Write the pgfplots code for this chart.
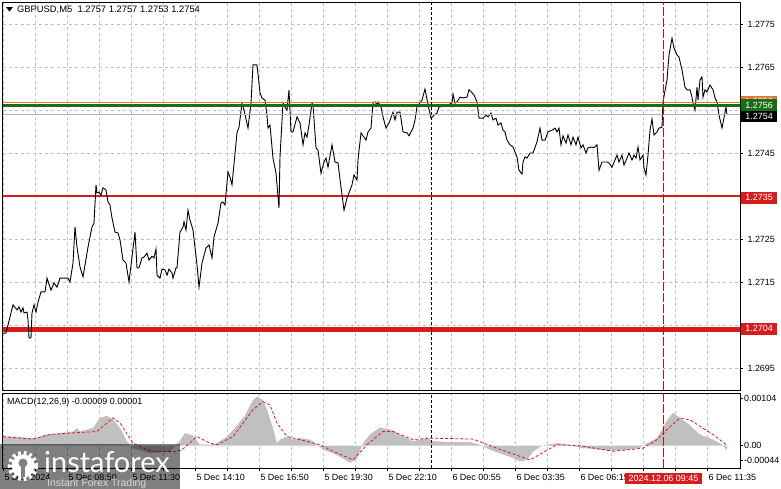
\documentclass[border=0pt]{standalone}
\usepackage{fontspec}
\setmainfont{Liberation Sans}
\newfontfamily\logofont{Lato}
\usepackage{pgfplots}
\pgfplotsset{compat=1.18}
\usepackage{pgfplotstable}

\definecolor{lvlred}{RGB}{214,28,28}
\definecolor{lvlgreen}{RGB}{24,110,24}
\definecolor{lvlorange}{RGB}{222,120,50}
\definecolor{gridgray}{RGB}{190,190,190}
\definecolor{histgray}{RGB}{192,192,192}
\definecolor{sepred}{RGB}{165,30,30}

% close price, x = position on the time axis
\pgfplotstableread{
x p
3 1.27031
6 1.27031
8 1.27050
13 1.27097
17 1.27085
19 1.27092
21 1.27080
23 1.27090
24 1.27078
27 1.27080
28 1.27062
29 1.27020
31 1.27020
32 1.27078
34 1.27097
36 1.27080
38 1.27103
41 1.27127
45 1.27127
47 1.27159
51 1.27131
54 1.27148
57 1.27138
60 1.27159
68 1.27159
70 1.27150
73 1.27194
75 1.27278
77 1.27231
80 1.27185
83 1.27162
88 1.27231
92 1.27278
94 1.27287
96 1.27376
97 1.27357
99 1.27359
101 1.27352
103 1.27369
106 1.27364
108 1.27336
110 1.27329
112 1.27299
115 1.27266
118 1.27264
120 1.27248
123 1.27201
126 1.27194
129 1.27150
132 1.27208
135 1.27266
137 1.27183
139 1.27183
142 1.27206
144 1.27208
147 1.27217
149 1.27201
152 1.27210
154 1.27206
156 1.27227
157 1.27166
160 1.27159
162 1.27180
165 1.27178
167 1.27166
169 1.27180
172 1.27171
173 1.27159
176 1.27183
177 1.27183
180 1.27266
183 1.27278
184 1.27290
186 1.27271
188 1.27317
190 1.27294
193 1.27271
197 1.27190
199 1.27138
202 1.27194
206 1.27229
209 1.27236
212 1.27206
214 1.27255
218 1.27287
221 1.27334
223 1.27336
225 1.27329
228 1.27406
230 1.27394
232 1.27376
237 1.27497
239 1.27510
242 1.27566
244 1.27550
248 1.27508
251 1.27566
253 1.27655
257 1.27655
260 1.27590
262 1.27578
265 1.27573
267 1.27538
268 1.27508
270 1.27515
273 1.27438
276 1.27403
279 1.27322
280 1.27441
283 1.27566
285 1.27557
287 1.27550
289 1.27597
291 1.27499
293 1.27499
297 1.27534
300 1.27520
303 1.27469
305 1.27497
307 1.27487
309 1.27515
312 1.27566
313 1.27562
316 1.27462
318 1.27457
321 1.27403
324 1.27429
326 1.27438
328 1.27417
332 1.27469
335 1.27429
338 1.27427
341 1.27371
344 1.27317
347 1.27345
352 1.27376
354 1.27399
357 1.27387
358 1.27434
361 1.27497
363 1.27490
366 1.27480
368 1.27499
371 1.27508
373 1.27566
375 1.27569
377 1.27562
378 1.27569
381 1.27557
383 1.27534
386 1.27508
389 1.27520
393 1.27545
395 1.27527
397 1.27545
400 1.27545
403 1.27499
407 1.27497
409 1.27490
413 1.27508
415 1.27527
417 1.27557
422 1.27573
425 1.27599
428 1.27562
431 1.27531
434 1.27538
437 1.27543
439 1.27557
445 1.27559
452 1.27566
453 1.27587
455 1.27566
457 1.27569
460 1.27580
463 1.27578
467 1.27580
469 1.27597
472 1.27590
474 1.27585
477 1.27569
479 1.27531
483 1.27531
486 1.27538
488 1.27534
491 1.27543
493 1.27527
496 1.27531
498 1.27515
501 1.27520
503 1.27503
505 1.27499
507 1.27480
510 1.27469
513 1.27464
517 1.27441
519 1.27410
522 1.27401
523 1.27429
525 1.27441
527 1.27438
530 1.27450
533 1.27450
537 1.27476
540 1.27508
542 1.27480
545 1.27480
548 1.27499
552 1.27503
555 1.27508
557 1.27499
559 1.27508
561 1.27469
563 1.27490
566 1.27473
568 1.27492
571 1.27469
573 1.27487
576 1.27469
578 1.27487
581 1.27462
583 1.27469
586 1.27450
588 1.27462
592 1.27464
594 1.27462
597 1.27469
599 1.27410
602 1.27429
607 1.27429
609 1.27427
612 1.27417
615 1.27434
617 1.27445
619 1.27429
622 1.27445
624 1.27422
627 1.27438
629 1.27450
632 1.27434
634 1.27445
636 1.27438
638 1.27464
640 1.27434
643 1.27445
644 1.27415
646 1.27399
648 1.27445
650 1.27503
652 1.27529
654 1.27492
657 1.27499
659 1.27508
662 1.27510
663 1.27569
667 1.27620
669 1.27678
672 1.27717
674 1.27694
677 1.27678
679 1.27673
682 1.27643
685 1.27603
687 1.27597
690 1.27597
692 1.27580
693 1.27566
695 1.27550
697 1.27603
698 1.27573
700 1.27620
702 1.27627
703 1.27580
705 1.27597
707 1.27592
710 1.27608
713 1.27597
715 1.27578
717 1.27569
719 1.27538
722 1.27508
723 1.27520
726 1.27557
727 1.27538
}\pricedata

% MACD main (histogram)
\pgfplotstableread{
x m
3 0.00018
15 0.00018
30 0.00015
37 0.00015
45 0.00022
60 0.00025
73 0.00028
77 0.00035
80 0.00028
93 0.00035
100 0.00055
107 0.00059
113 0.00052
120 0.00035
127 0.00009
133 -0.00005
150 -0.00015
170 -0.00012
180 0.00010
185 0.00025
193 0.00020
200 0.00002
210 0.00002
217 0.00005
227 0.00018
237 0.00040
245 0.00060
253 0.00090
257 0.00097
263 0.00090
267 0.00071
273 0.00035
277 0.00005
280 0.00012
287 0.00018
293 0.00012
300 0.00015
310 0.00012
317 0.00002
323 -0.00008
333 -0.00015
343 -0.00025
350 -0.00034
357 -0.00025
363 0.00005
370 0.00022
377 0.00032
380 0.00036
390 0.00032
393 0.00030
400 0.00022
413 0.00009
420 0.00012
427 0.00015
433 0.00009
450 0.00007
470 0.00007
480 0.00002
490 -0.00008
500 -0.00015
510 -0.00022
520 -0.00031
527 -0.00028
533 -0.00012
540 -0.00002
547 0.00002
557 0.00005
570 0.00002
580 -0.00004
600 -0.00008
613 -0.00010
627 -0.00008
640 -0.00004
647 0.00005
657 0.00015
667 0.00050
673 0.00065
680 0.00055
687 0.00045
700 0.00022
713 0.00012
722 0.00002
727 -0.00009
}\macddata

% MACD signal
\pgfplotstableread{
x s
3 0.00018
20 0.00015
33 0.00013
50 0.00022
70 0.00025
97 0.00028
113 0.00055
120 0.00045
133 0.00005
150 -0.00010
175 -0.00012
182 -0.00008
197 0.00018
210 0.00005
217 0.00002
233 0.00018
253 0.00071
263 0.00087
270 0.00080
277 0.00045
287 0.00018
300 0.00012
320 0.00002
333 -0.00011
353 -0.00028
367 0.00002
383 0.00028
393 0.00028
413 0.00012
430 0.00015
473 0.00013
497 -0.00005
530 -0.00028
557 0.00002
580 0.00000
613 -0.00011
643 -0.00005
657 0.00012
667 0.00032
680 0.00055
690 0.00051
713 0.00022
727 0.00001
}\signaldata

\begin{document}
\begin{tikzpicture}[font=\fontsize{9}{10}\selectfont]
\useasboundingbox (0,0) rectangle (781bp,-489bp);

\begin{axis}[
    at={(2.5bp,-2bp)}, anchor=north west,
    scale only axis, width=737.5bp, height=388bp,
    xmin=2.5, xmax=740, ymin=1.268988, ymax=1.278012,
    axis line style={black, line width=0.8bp},
    xtick={3,35,...,707}, xticklabels={}, xtick style={draw=none},
    ytick={1.2695,1.2705,1.2715,1.2725,1.2735,1.2745,1.2755,1.2765,1.2775},
    yticklabels={1.2695,,1.2715,1.2725,,1.2745,,1.2765,1.2775},
    ytick pos=right, yticklabel pos=right,
    tick align=outside, major tick length=3bp,
    ytick style={black, line width=0.6bp},
    grid=major, grid style={gridgray, dash pattern=on 3bp off 3bp, line width=0.6bp},
    tick label style={font=\fontsize{9}{10}\selectfont},
    yticklabel style={xshift=1bp},
]
\addplot[lvlred, line width=2.8bp] coordinates {(2.5,1.2735) (740,1.2735)};
\addplot[lvlred, line width=4.5bp] coordinates {(2.5,1.2704) (740,1.2704)};
\addplot[black, line width=0.9bp] table[x=x, y=p] {\pricedata};
\addplot[lvlorange, line width=0.9bp] coordinates {(2.5,1.27567) (740,1.27567)};
\addplot[lvlgreen, line width=3bp] coordinates {(2.5,1.2756) (740,1.2756)};
\addplot[black!30, line width=0.8bp] coordinates {(2.5,1.2754) (740,1.2754)};
\addplot[black, line width=0.8bp, dash pattern=on 3bp off 2bp] coordinates {(431.5,1.268988) (431.5,1.278012)};
\addplot[sepred, line width=0.9bp, dash pattern=on 9bp off 2bp] coordinates {(663,1.268988) (663,1.278012)};
\end{axis}

\begin{axis}[
    at={(2.5bp,-393bp)}, anchor=north west,
    scale only axis, width=737.5bp, height=75bp,
    xmin=2.5, xmax=740, ymin=-0.00044, ymax=0.00104,
    axis line style={black, line width=0.8bp},
    xtick={3,35,...,707},
    xticklabels={5 Dec 2024,,5 Dec 08:50,,5 Dec 11:30,,5 Dec 14:10,,5 Dec 16:50,,5 Dec 19:30,,5 Dec 22:10,,6 Dec 00:55,,6 Dec 03:35,,6 Dec 06:15,,6 Dec 08:55,,6 Dec 11:35},
    xtick pos=bottom, xticklabel style={anchor=north west, xshift=-2bp},
    ytick={-0.000296,0,0.000927}, yticklabels={-0.00044,0.00,0.00104},
    scaled y ticks=false,
    ytick pos=right, yticklabel pos=right,
    tick align=outside, major tick length=3bp,
    tick style={black, line width=0.6bp},
    xmajorgrids, grid style={gridgray, dash pattern=on 3bp off 3bp, line width=0.6bp},
    tick label style={font=\fontsize{9}{10}\selectfont},
    yticklabel style={xshift=-2.5bp},
]
\addplot[fill=histgray, draw=none] table[x=x, y=m] {\macddata} \closedcycle;
\addplot[lvlred, line width=0.8bp, dash pattern=on 3bp off 2bp] table[x=x, y=s] {\signaldata};
\addplot[black, line width=0.8bp, dash pattern=on 3bp off 2bp] coordinates {(431.5,-0.00044) (431.5,0.00104)};
\addplot[sepred, line width=0.9bp, dash pattern=on 9bp off 2bp] coordinates {(663,-0.00044) (663,0.00104)};
\end{axis}

% header
\fill (6bp,-7bp) -- (13bp,-7bp) -- (9.5bp,-11.5bp) -- cycle;
\node[anchor=west, inner sep=0pt, font=\fontsize{9.4}{10}\selectfont] at (17bp,-9.5bp) {GBPUSD,M5\ \ 1.2757 1.2757 1.2753 1.2754};
\node[anchor=west, inner sep=0pt, font=\fontsize{9}{10}\selectfont] at (7bp,-402bp) {MACD(12,26,9) -0.00009 0.00001};

% price tags on the scale
\begin{scope}[every node/.style={anchor=west, inner sep=0pt, minimum width=36bp, minimum height=12bp, text=white}]
\node[fill=lvlorange] at (741bp,-101.5bp) {1.2757};
\node[fill=lvlgreen] at (741bp,-105bp) {1.2756};
\node[fill=black, minimum height=11bp] at (741bp,-116.5bp) {1.2754};
\node[fill=lvlred] at (741bp,-197.5bp) {1.2735};
\node[fill=lvlred] at (741bp,-328.5bp) {1.2704};
\end{scope}
\node[fill=lvlred, text=white, inner sep=0pt, minimum width=77bp, minimum height=11bp] at (663.5bp,-478bp) {2024.12.06 09:45};

% watermark
\fill[black, fill opacity=0.5] (0,-444bp) rectangle (180bp,-489bp);
\draw[white, line width=4.5bp, dash pattern=on 2.8bp off 2.8bp] (23bp,-466bp) circle (13bp);
\fill[white] (23bp,-466bp) circle (11.5bp);
\fill[black!50] (23bp,-463bp) circle (4.5bp);
\fill[black!50] (21bp,-477bp) rectangle (25bp,-464bp);
\node[anchor=base west, inner sep=0pt, text=white, font=\logofont\fontsize{29}{30}\selectfont] at (44bp,-472bp) {instaforex};
\node[anchor=base west, inner sep=0pt, text=white!85!black, font=\fontsize{10.5}{12}\selectfont] at (47bp,-486bp) {Instant Forex Trading};
\end{tikzpicture}
\end{document}
